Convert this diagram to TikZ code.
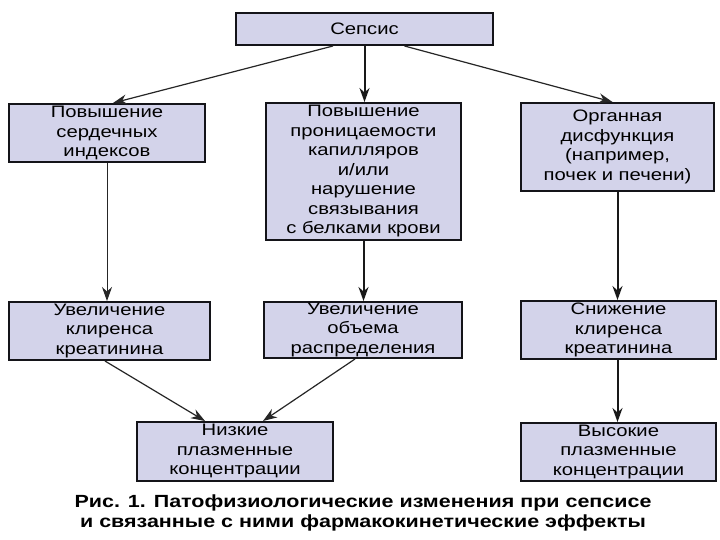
\documentclass[tikz,border=0pt]{standalone}
\usepackage{fontspec}
\setmainfont{Liberation Sans}[FakeStretch=1.22]
\usetikzlibrary{arrows.meta}
\definecolor{boxfill}{RGB}{211,211,234}
\definecolor{boxline}{RGB}{20,20,25}
\tikzset{
  box/.style={draw=boxline, line width=2pt, fill=boxfill, inner sep=0pt, align=center,
    font=\fontsize{16.6}{19.5}\selectfont},
  thinarrow/.style={line width=1.2pt, draw=black!85, -{Stealth[length=14pt,width=10pt]}},
  thickarrow/.style={line width=2pt, draw=black!90, -{Stealth[length=14pt,width=10pt]}},
  thinline/.style={line width=1pt, draw=black!85, -{Stealth[length=14pt,width=10pt]}}
}
\begin{document}
\begin{tikzpicture}[x=1pt,y=-1pt]
\useasboundingbox (0,0) rectangle (720,540);
\fill[white] (0,0) rectangle (720,540);
\node[box, minimum width=257pt, minimum height=32pt] (sep) at (364.5,29) {Сепсис};
\node[box, minimum width=196pt, minimum height=58pt] (a1) at (107,133) {Повышение\\сердечных\\индексов};
\node[box, minimum width=195pt, minimum height=137pt] (a2) at (363.5,171.5) {Повышение\\проницаемости\\капилляров\\и/или\\нарушение\\связывания\\с белками крови};
\node[box, minimum width=193pt, minimum height=88pt] (a3) at (617.5,147) {Органная\\дисфункция\\(например,\\почек и печени)};
\node[box, minimum width=201pt, minimum height=58pt] (b1) at (109.5,331) {Увеличение\\клиренса\\креатинина};
\node[box, minimum width=198pt, minimum height=56pt] (b2) at (363,330) {Увеличение\\объема\\распределения};
\node[box, minimum width=195pt, minimum height=58pt] (b3) at (618.5,330) {Снижение\\клиренса\\креатинина};
\node[box, minimum width=196pt, minimum height=59pt] (c1) at (235,451.5) {Низкие\\плазменные\\концентрации};
\node[box, minimum width=195pt, minimum height=58pt] (c3) at (618.5,452) {Высокие\\плазменные\\концентрации};
\node[align=center, font=\bfseries\fontsize{17.6}{20}\selectfont] (cap) at (363,513)
  {Рис. 1. Патофизиологические изменения при сепсисе\\и связанные с ними фармакокинетические эффекты};
\draw[thinarrow] ([xshift=-31.5pt]sep.south) -- ([xshift=6pt]a1.north);
\draw[thickarrow] (sep.south) -- (sep.south |- a2.north);
\draw[thinarrow] ([xshift=40pt]sep.south) -- ([xshift=-5pt]a3.north);
\draw[thinline] (a1.south) -- (a1.south |- b1.north);
\draw[thickarrow] (a2.south) -- (a2.south |- b2.north);
\draw[thickarrow] (a3.south) -- (a3.south |- b3.north);
\draw[thinarrow] ([xshift=-4.5pt]b1.south) -- ([xshift=-30pt]c1.north);
\draw[thinarrow] ([xshift=-8pt]b2.south) -- ([xshift=28pt]c1.north);
\draw[thickarrow] (b3.south -| a3.south) -- (a3.south |- c3.north);
\end{tikzpicture}
\end{document}
